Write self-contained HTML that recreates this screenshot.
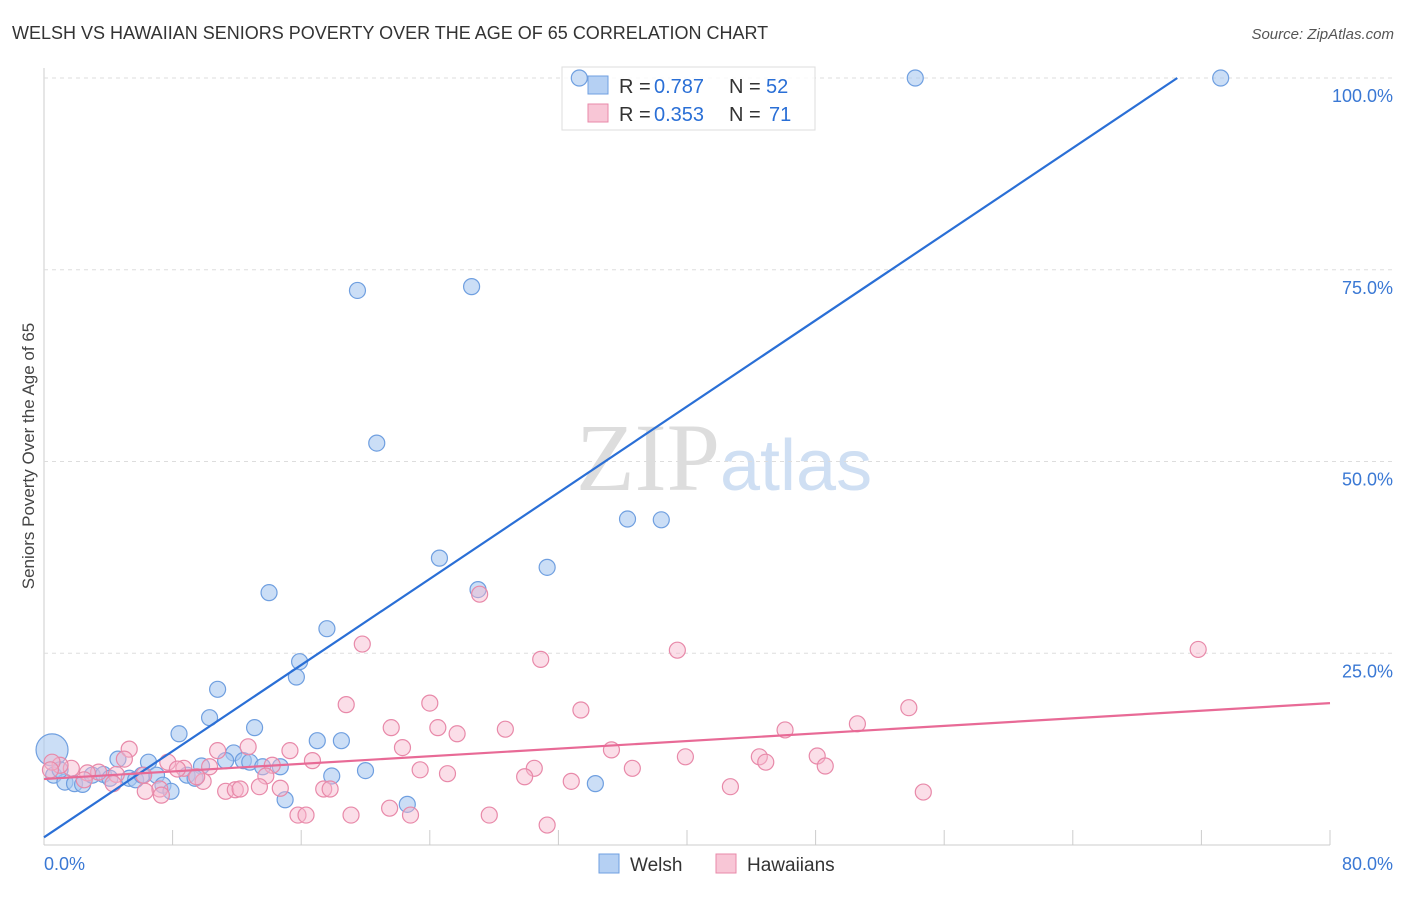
<!DOCTYPE html>
<html><head><meta charset="utf-8"><style>
body{margin:0;background:#fff;font-family:"Liberation Sans",sans-serif}
</style></head><body>
<svg id="c" width="1406" height="892" xmlns="http://www.w3.org/2000/svg">
<text x="12" y="39" font-size="18" fill="#333">WELSH VS HAWAIIAN SENIORS POVERTY OVER THE AGE OF 65 CORRELATION CHART</text>
<text x="1394" y="39" font-size="15" fill="#555" font-style="italic" text-anchor="end">Source: ZipAtlas.com</text>
<text x="0" y="0" transform="translate(34,456) rotate(-90)" font-size="17" fill="#444" text-anchor="middle">Seniors Poverty Over the Age of 65</text>
<text x="720" y="490" font-size="96" font-family="Liberation Serif" fill="#ddd" text-anchor="end">ZIP</text>
<text x="720" y="490" font-size="72" fill="#cfdff3">atlas</text>
<g id="grid"></g>
<g>
<rect x="562" y="67" width="253" height="63" fill="#fff" fill-opacity="0.85" stroke="#ddd"/>
<rect x="588" y="76" width="20" height="18" fill="#b5d0f3" stroke="#6f9fe0"/>
<text x="619" y="93" font-size="20" fill="#333">R =</text>
<text x="654" y="93" font-size="20" fill="#2a6fd6">0.787</text>
<text x="729" y="93" font-size="20" fill="#333">N =</text>
<text x="766" y="93" font-size="20" fill="#2a6fd6">52</text>
<rect x="588" y="104" width="20" height="18" fill="#f8c6d6" stroke="#e889a9"/>
<text x="619" y="121" font-size="20" fill="#333">R =</text>
<text x="654" y="121" font-size="20" fill="#2a6fd6">0.353</text>
<text x="729" y="121" font-size="20" fill="#333">N =</text>
<text x="769" y="121" font-size="20" fill="#2a6fd6">71</text>
</g>
<g id="pts"></g><g id="lines"></g>
<g>
<rect x="599" y="854" width="20" height="19" fill="#b5d0f3" stroke="#6f9fe0"/>
<text x="630" y="871" font-size="19" fill="#333">Welsh</text>
<rect x="716" y="854" width="20" height="19" fill="#f8c6d6" stroke="#e889a9"/>
<text x="747" y="871" font-size="19" fill="#333">Hawaiians</text>
</g>
</svg>
<script>
const yTicks=[25,50,75,100];
const yTickLabels=["25.0%","50.0%","75.0%","100.0%"];
const xTickLabels=["0.0%","80.0%"];
const welshX=[33.3,54.2,73.2,19.5,26.6,20.7,36.3,38.4,24.6,31.3,27.0,14.0,17.6,15.9,15.7,10.8,10.3,8.4,13.1,17.0,18.5,11.8,12.4,12.8,13.6,14.7,6.5,4.6,9.8,11.3,7.0,8.9,9.4,17.9,20.0,34.3,15.0,22.6,0.6,1.3,1.9,2.4,3.0,3.7,4.1,5.3,5.7,6.1,7.4,7.9,0.5,1.0];
const welshY=[100,100,100,72.3,72.8,52.4,42.5,42.4,37.4,36.2,33.3,32.9,28.2,23.9,21.9,20.3,16.6,14.5,15.3,13.6,13.6,12.0,11.0,10.8,10.2,10.2,10.8,11.2,10.3,11.0,9.1,9.1,8.7,9.0,9.7,8.0,5.9,5.3,9.1,8.2,8.0,7.9,9.1,9.2,8.7,8.7,8.5,9.1,7.8,7.0,12.4,9.8];
const hawX=[27.1,19.8,30.9,39.4,71.8,18.8,24.0,33.4,53.8,21.6,24.5,25.7,28.7,50.6,46.1,22.3,35.3,15.3,5.3,10.8,12.7,39.9,44.5,44.9,48.1,48.6,36.6,30.5,23.4,25.1,29.9,32.8,42.7,54.7,16.7,14.2,13.8,8.7,10.3,7.7,5.0,6.2,3.4,4.5,2.7,1.7,1.0,0.5,11.3,11.9,12.2,9.9,9.5,8.3,7.2,6.3,7.3,14.7,17.4,17.8,13.4,21.5,22.8,15.8,16.3,19.1,27.7,31.3,4.3,2.5,0.4];
const hawY=[32.7,26.2,24.2,25.4,25.5,18.3,18.5,17.6,17.9,15.3,15.3,14.5,15.1,15.8,15.0,12.7,12.4,12.3,12.5,12.3,12.8,11.5,11.5,10.8,11.6,10.3,10.0,10.0,9.8,9.3,8.9,8.3,7.6,6.9,11.0,10.4,9.0,10.0,10.2,10.8,11.2,9.1,9.5,9.2,9.4,10.0,10.4,10.8,7.0,7.2,7.3,8.3,8.9,9.9,7.3,7.0,6.5,7.4,7.3,7.3,7.6,4.8,3.9,3.9,3.9,3.9,3.9,2.6,8.0,8.5,9.8];
const welshFit=[1.0,100,70.5];
const hawFit=[8.6,18.5];
const NS="http://www.w3.org/2000/svg";
const X=v=>44+v*16.075, Y=v=>845-v*7.67;
function mk(t,a,p){const e=document.createElementNS(NS,t);for(const k in a)e.setAttribute(k,a[k]);p.appendChild(e);return e;}
const g=document.getElementById('grid');
mk('line',{x1:44,y1:68,x2:44,y2:845,stroke:'#ccc'},g);
mk('line',{x1:44,y1:845,x2:1330,y2:845,stroke:'#ccc'},g);
yTicks.forEach((t,i)=>{const l=mk('line',{x1:44,y1:Y(t),x2:1394,y2:Y(t),stroke:'#ddd','stroke-dasharray':'4,4'},g);


const tx=mk('text',{x:1393,y:Y(t)+24,'font-size':18,fill:'#3a78d4','text-anchor':'end'},g);tx.textContent=yTickLabels[i];

});
for(let i=0;i<=10;i++){const l=mk('line',{x1:X(i*8),y1:830,x2:X(i*8),y2:845,stroke:'#ccc'},g);

}
[[0,'start'],[80,'end']].forEach((a,i)=>{const t=mk('text',{x:X(a[0])+(i?63:0),y:870,'font-size':18,fill:'#3a78d4','text-anchor':a[1]},g);t.textContent=xTickLabels[i];

});
const p=document.getElementById('pts');
welshX.forEach((x,i)=>{const c=mk('circle',{cx:X(x),cy:Y(welshY[i]),r:i==50?16:8,fill:'#a9c8f0','fill-opacity':0.6,stroke:'#6f9fe0','stroke-width':1.2},p);

});
hawX.forEach((x,i)=>{const c=mk('circle',{cx:X(x),cy:Y(hawY[i]),r:8,fill:'#f6b6cb','fill-opacity':0.45,stroke:'#e889a9','stroke-width':1.2},p);

});
const L=document.getElementById('lines');
const b=mk('line',{x1:X(0),y1:Y(welshFit[0]),x2:X(welshFit[2]),y2:Y(welshFit[1]),stroke:'#2a6fd6','stroke-width':2.2},L);


const h=mk('line',{x1:X(0),y1:Y(hawFit[0]),x2:X(80),y2:Y(hawFit[1]),stroke:'#e86a96','stroke-width':2.2},L);


</script>
</body></html>
